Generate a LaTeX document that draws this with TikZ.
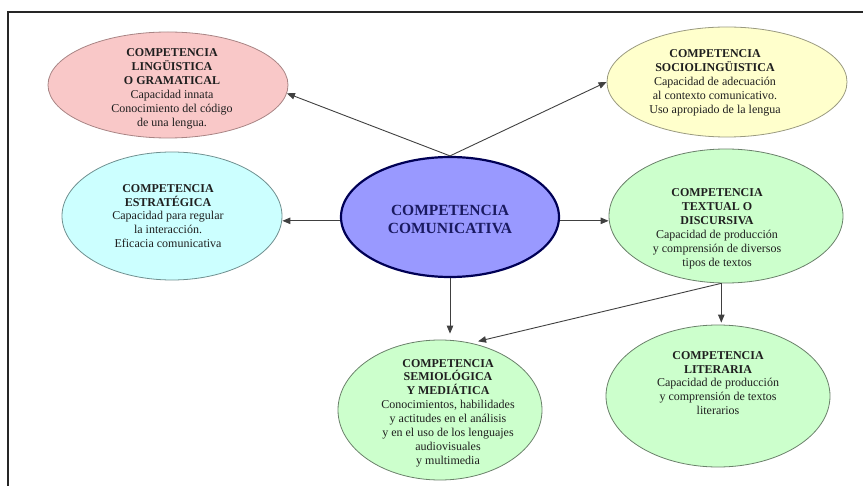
\documentclass[tikz,border=0pt]{standalone}
\usepackage{fontspec}
\setmainfont{Liberation Serif}
\usetikzlibrary{shapes.geometric,arrows.meta}
\definecolor{pinkfill}{HTML}{F9C8C8}
\definecolor{pinkline}{HTML}{A88484}
\definecolor{yelfill}{HTML}{FFFFCC}
\definecolor{yelline}{HTML}{9A9A80}
\definecolor{cyanfill}{HTML}{CCFFFF}
\definecolor{cyanline}{HTML}{6F9090}
\definecolor{grnfill}{HTML}{CCFFCC}
\definecolor{grnline}{HTML}{6A806A}
\definecolor{bluefill}{HTML}{9999FF}
\definecolor{navy}{HTML}{000055}
\definecolor{navytext}{HTML}{1A1A60}
\begin{document}
\begin{tikzpicture}[x=1bp,y=-1bp,
  oval/.style={ellipse, inner sep=0pt, line width=0.8bp},
  lbl/.style={align=center, inner sep=0pt, font=\fontsize{12bp}{13.9bp}\selectfont, text=black!88},
  conn/.style={draw=black!75, line width=0.9bp, -{Triangle[length=8bp,width=6.5bp]}},
]
\useasboundingbox (0,0) rectangle (863,486);
\draw[line width=1.5bp, black!85] (8,486) -- (8,12) -- (863,12);

% ellipses
\node[oval, fill=pinkfill, draw=pinkline, minimum width=240bp, minimum height=106bp] (ling) at (168,85) {};
\node[oval, fill=cyanfill, draw=cyanline, minimum width=220bp, minimum height=128bp] (est) at (172,216) {};
\node[oval, fill=yelfill, draw=yelline, minimum width=240bp, minimum height=110bp] (soc) at (727,82) {};
\node[oval, fill=grnfill, draw=grnline, minimum width=234bp, minimum height=134bp] (txt) at (726,216) {};
\node[oval, fill=bluefill, draw=navy, line width=2.2bp, minimum width=218bp, minimum height=120bp] (c) at (450,217) {};
\node[oval, fill=grnfill, draw=grnline, minimum width=204bp, minimum height=140bp] (sem) at (440,410) {};
\node[oval, fill=grnfill, draw=grnline, minimum width=224bp, minimum height=142bp] (lit) at (718,396) {};

% texts
\node[lbl] (tling) at (172,89) {\textbf{COMPETENCIA}\\\textbf{LINGÜISTICA}\\\textbf{O GRAMATICAL}\\Capacidad innata\\Conocimiento del código\\de una lengua.};
\node[lbl] (test) at (168,216) {\textbf{COMPETENCIA}\\\textbf{ESTRATÉGICA}\\Capacidad para regular\\la interacción.\\Eficacia comunicativa};
\node[lbl] (tsoc) at (715,83) {\textbf{COMPETENCIA}\\\textbf{SOCIOLINGÜISTICA}\\Capacidad de adecuación\\al contexto comunicativo.\\Uso apropiado de la lengua};
\node[lbl] (ttxt) at (717,229) {\textbf{COMPETENCIA}\\\textbf{TEXTUAL O}\\\textbf{DISCURSIVA}\\Capacidad de producción\\y comprensión de diversos\\tipos de textos};
\node[lbl, font=\fontsize{15.5bp}{18bp}\selectfont\bfseries, text=navytext] (tc) at (450,219) {COMPETENCIA\\COMUNICATIVA};
\node[lbl] (tsem) at (448,413) {\textbf{COMPETENCIA}\\\textbf{SEMIOLÓGICA}\\\textbf{Y MEDIÁTICA}\\Conocimientos, habilidades\\y actitudes en el análisis\\y en el uso de los lenguajes\\audiovisuales\\y multimedia};
\node[lbl] (tlit) at (718,383) {\textbf{COMPETENCIA}\\\textbf{LITERARIA}\\Capacidad de producción\\y comprensión de textos\\literarios};

% connectors
\draw[conn] (c.north) -- (ling.-4);
\draw[conn] (c.north) -- (soc.west);
\draw[conn] (c.182) -- (c.182 -| est.east);
\draw[conn] (c.-2) -- (c.-2 -| txt.west);
\draw[conn, shorten >=6bp] (c.south) -- (c.south |- sem.north);
\draw[conn, shorten >=2bp] (txt.266) -- (txt.266 |- lit.north);
\draw[conn, shorten >=7bp] (txt.266) -- (sem.65);
\end{tikzpicture}
\end{document}
